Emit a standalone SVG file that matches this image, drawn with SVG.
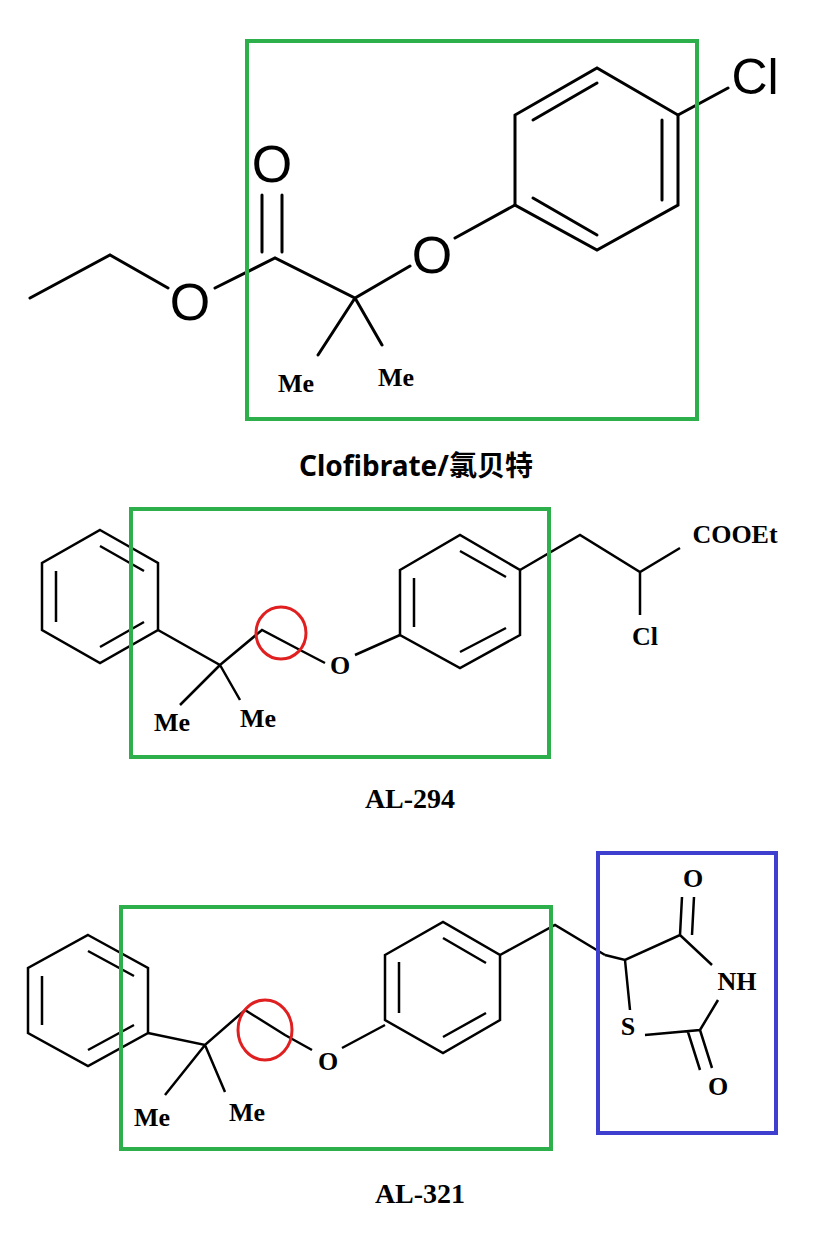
<svg xmlns="http://www.w3.org/2000/svg" width="826" height="1246" viewBox="0 0 826 1246">
<style>
.b{stroke:#000;stroke-width:3;fill:none;stroke-linecap:round}
.b2{stroke:#000;stroke-width:2.5;fill:none}
.gb{stroke:#2db04b;stroke-width:4;fill:none}
.s{font-family:"Liberation Sans",Arial,sans-serif;fill:#000}
.r{font-family:"Liberation Serif","Times New Roman",serif;fill:#000;font-weight:bold}
</style>
<rect width="826" height="1246" fill="#fff"/>
<g id="clofibrate">
<path class="b" d="M30,298 L110,255 L168,288 M215,288 L275,258 L355,298 L410,266 M455,238 L515,205 M262,252 L262,195 M282,252 L282,195 M275,258 L275,258 M355,298 L318,355 M355,298 L382,345 M678,115 L728,88"/>
<path class="b" d="M515,205 L515,115 L597,68 L678,115 L678,205 L597,250 Z M533,120 L597,83 M533,198 L597,235 M662,120 L662,200"/>
<text class="s" x="190" y="320" font-size="52" text-anchor="middle">O</text>
<text class="s" x="272" y="182" font-size="52" text-anchor="middle">O</text>
<text class="s" x="432" y="273" font-size="52" text-anchor="middle">O</text>
<text class="s" x="755" y="94" font-size="50" text-anchor="middle">Cl</text>
<text class="r" x="296" y="392" font-size="26" text-anchor="middle">Me</text>
<text class="r" x="396" y="386" font-size="26" text-anchor="middle">Me</text>
<rect class="gb" x="247" y="41" width="450" height="378"/>
<text x="416" y="476" font-size="28" font-weight="bold" text-anchor="middle" font-family="'Noto Sans','Noto Sans CJK SC',sans-serif">Clofibrate/氯贝特</text>
</g>
<g id="al294">
<path class="b2" d="M100,530 L158,563 L158,630 L100,663 L42,630 L42,563 Z M100,546 L144,571 M144,622 L100,647 M56,571 L56,622"/>
<path class="b2" d="M158,630 L220,665 L262,630 L300,650 L325,663 M220,665 L180,705 M220,665 L240,700 M355,655 L400,635 M520,570 L580,535 L640,572 L680,548 M640,572 L640,615"/>
<path class="b2" d="M400,570 L460,535 L520,570 L520,635 L460,668 L400,635 Z M414,578 L414,627 M460,551 L506,577 M506,628 L460,652"/>
<text class="r" x="340" y="674" font-size="26" text-anchor="middle">O</text>
<text class="r" x="735" y="543" font-size="26" text-anchor="middle">COOEt</text>
<text class="r" x="645" y="645" font-size="26" text-anchor="middle">Cl</text>
<text class="r" x="172" y="731" font-size="26" text-anchor="middle">Me</text>
<text class="r" x="258" y="727" font-size="26" text-anchor="middle">Me</text>
<ellipse cx="281" cy="633" rx="25" ry="26" stroke="#e02020" stroke-width="3" fill="none"/>
<rect class="gb" x="131" y="509" width="418" height="248"/>
<text class="r" x="410" y="808" font-size="28" text-anchor="middle" font-weight="normal">AL-294</text>
</g>
<g id="al321">
<path class="b2" d="M88,935 L148,968 L148,1033 L88,1066 L28,1033 L28,968 Z M88,951 L134,976 M134,1025 L88,1050 M42,976 L42,1025"/>
<path class="b2" d="M148,1033 L205,1045 L245,1010 L285,1035 L312,1050 M205,1045 L165,1095 M205,1045 L225,1092 M342,1048 L385,1025 M500,955 L555,925 L605,955"/>
<path class="b2" d="M385,955 L443,922 L500,955 L500,1020 L443,1053 L385,1020 Z M399,962 L399,1013 M443,938 L486,963 M486,1013 L443,1037"/>
<path class="b2" d="M605,955 L625,960 L680,935 L712,965 M680,935 L682,897 M692,935 L694,897 M625,960 L630,1010 M645,1035 L700,1030 L718,1000 M700,1030 L712,1068 M688,1032 L700,1070"/>
<text class="r" x="328" y="1070" font-size="26" text-anchor="middle">O</text>
<text class="r" x="693" y="887" font-size="26" text-anchor="middle">O</text>
<text class="r" x="737" y="990" font-size="26" text-anchor="middle">NH</text>
<text class="r" x="628" y="1035" font-size="26" text-anchor="middle">S</text>
<text class="r" x="718" y="1095" font-size="26" text-anchor="middle">O</text>
<text class="r" x="152" y="1126" font-size="26" text-anchor="middle">Me</text>
<text class="r" x="247" y="1121" font-size="26" text-anchor="middle">Me</text>
<ellipse cx="265" cy="1030" rx="27" ry="30" stroke="#e02020" stroke-width="3" fill="none"/>
<rect class="gb" x="121" y="907" width="430" height="242"/>
<rect x="598" y="853" width="178" height="280" stroke="#3f3fcf" stroke-width="4" fill="none"/>
<text class="r" x="420" y="1203" font-size="28" text-anchor="middle" font-weight="normal">AL-321</text>
</g>
</svg>
